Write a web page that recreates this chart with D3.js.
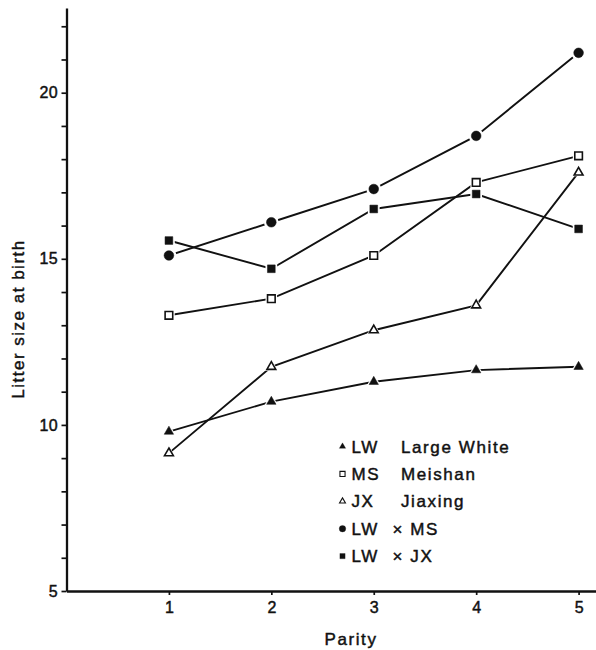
<html>
<head>
	<meta charset="utf-8">
	<title>Litter size at birth</title>
	<style>
		body { margin:0; background:#fff; }
		text { font-family: "Liberation Sans", Arial, sans-serif; fill:#111; stroke:#111; stroke-width:0.45px; }
		.axis path, .axis line { stroke:#111; }
	</style>
	<script src="https://d3js.org/d3.v7.min.js" charset="utf-8"></script>
</head>
<body>
	<script type="text/javascript">

		/************** data *****************/
		var parity = [1, 2, 3, 4, 5];
		var lwValues   = [9.8, 10.7, 11.3, 11.65, 11.75];   // Large White
		var msValues   = [13.3, 13.8, 15.1, 17.3, 18.1];    // Meishan
		var jxValues   = [9.15, 11.75, 12.85, 13.6, 17.6];  // Jiaxing
		var lwmsValues = [15.1, 16.1, 17.1, 18.7, 21.2];    // LW x MS
		var lwjxValues = [15.55, 14.7, 16.5, 16.95, 15.9];  // LW x JX
		var yTickLabels = [5, 10, 15, 20];
		var legendCodes = ["LW", "MS", "JX", "LW", "LW"];
		var legendNames = ["Large White", "Meishan", "Jiaxing", "\u00d7 MS", "\u00d7 JX"];

		/************** layout *****************/
		var width = 596, height = 650;
		var svg = d3.select("body").append("svg")
			.attr("width", width).attr("height", height);

		var xScale = d3.scaleLinear().domain([0, 5.17]).range([66.5, 596]);
		var yScale = d3.scaleLinear().domain([5, 22.55]).range([591, 8]);

		// series: values + marker look
		var series = [
			{values: lwValues,   shape: d3.symbolTriangle, size: 38, filled: true},
			{values: msValues,   shape: d3.symbolSquare,   size: 58, filled: false},
			{values: jxValues,   shape: d3.symbolTriangle, size: 34, filled: false},
			{values: lwmsValues, shape: d3.symbolCircle,   size: 74, filled: true},
			{values: lwjxValues, shape: d3.symbolSquare,   size: 60, filled: true}
		];

		/************** axes *****************/
		var yAxis = d3.axisLeft(yScale)
			.tickValues(d3.range(5, 23))
			.tickFormat(function(d){ return yTickLabels.indexOf(d) >= 0 ? d : ""; })
			.tickSize(5)
			.tickPadding(3.5)
			.tickSizeOuter(0);
		var gy = svg.append("g").attr("class", "axis")
			.attr("transform", "translate(" + xScale(0) + ",0)")
			.call(yAxis);
		gy.select(".domain").attr("stroke-width", 2.3);
		gy.selectAll(".tick line").attr("stroke-width", 1.7);
		gy.selectAll("text").attr("font-size", 16).style("letter-spacing", "0.4px");

		var xAxis = d3.axisBottom(xScale)
			.tickValues(parity)
			.tickFormat(d3.format("d"))
			.tickSize(4)
			.tickPadding(6.5)
			.tickSizeOuter(0);
		var gx = svg.append("g").attr("class", "axis")
			.attr("transform", "translate(0," + yScale(5) + ")")
			.call(xAxis);
		gx.select(".domain").attr("stroke-width", 2.3);
		gx.selectAll(".tick line").attr("stroke-width", 1.7);
		gx.selectAll("text").attr("font-size", 16);

		// axis titles
		svg.append("text")
			.attr("transform", "translate(24,319) rotate(-90)")
			.attr("text-anchor", "middle")
			.attr("font-size", 17)
			.style("letter-spacing", "1.5px")
			.text("Litter size at birth");
		svg.append("text")
			.attr("x", 351).attr("y", 645)
			.attr("text-anchor", "middle")
			.attr("font-size", 17)
			.style("letter-spacing", "1.6px")
			.text("Parity");

		/************** lines and markers *****************/
		var line = d3.line()
			.x(function(d, i){ return xScale(parity[i]); })
			.y(function(d){ return yScale(d); });

		series.forEach(function(s){
			svg.append("path")
				.attr("d", line(s.values))
				.attr("fill", "none")
				.attr("stroke", "#111")
				.attr("stroke-width", 1.9);
		});

		series.forEach(function(s){
			var sym = d3.symbol().type(s.shape).size(s.size);
			var g = svg.append("g");
			// white halo gives the small gaps where lines meet the markers
			g.selectAll(".halo").data(s.values).enter().append("path")
				.attr("class", "halo")
				.attr("d", d3.symbol().type(s.shape).size(s.size * 2.3)())
				.attr("transform", function(d, i){ return "translate(" + xScale(parity[i]) + "," + yScale(d) + ")"; })
				.attr("fill", "#fff");
			g.selectAll(".mark").data(s.values).enter().append("path")
				.attr("class", "mark")
				.attr("d", sym())
				.attr("transform", function(d, i){ return "translate(" + xScale(parity[i]) + "," + yScale(d) + ")"; })
				.attr("fill", s.filled ? "#111" : "#fff")
				.attr("stroke", "#111")
				.attr("stroke-width", s.filled ? 0.5 : 1.6);
		});

		/************** legend *****************/
		var legendX = 342.5, legendY = 446.5, legendStep = 27.4;
		var legend = svg.append("g").attr("class", "legend");
		series.forEach(function(s, i){
			var ly = legendY + i * legendStep;
			legend.append("path")
				.attr("d", d3.symbol().type(s.shape).size(s.size * 0.45)())
				.attr("transform", "translate(" + legendX + "," + ly + ")")
				.attr("fill", s.filled ? "#111" : "#fff")
				.attr("stroke", "#111")
				.attr("stroke-width", s.filled ? 0.3 : 1.1);
			legend.append("text")
				.attr("x", legendX + 9).attr("y", ly + 6)
				.attr("font-size", 17)
				.style("letter-spacing", "1.6px")
				.text(legendCodes[i]);
			legend.append("text")
				.attr("x", i < 3 ? 401 : 392.5).attr("y", ly + 6)
				.attr("font-size", 17)
				.style("letter-spacing", "1.6px")
				.text(legendNames[i]);
		});

	</script>
</body>
</html>
